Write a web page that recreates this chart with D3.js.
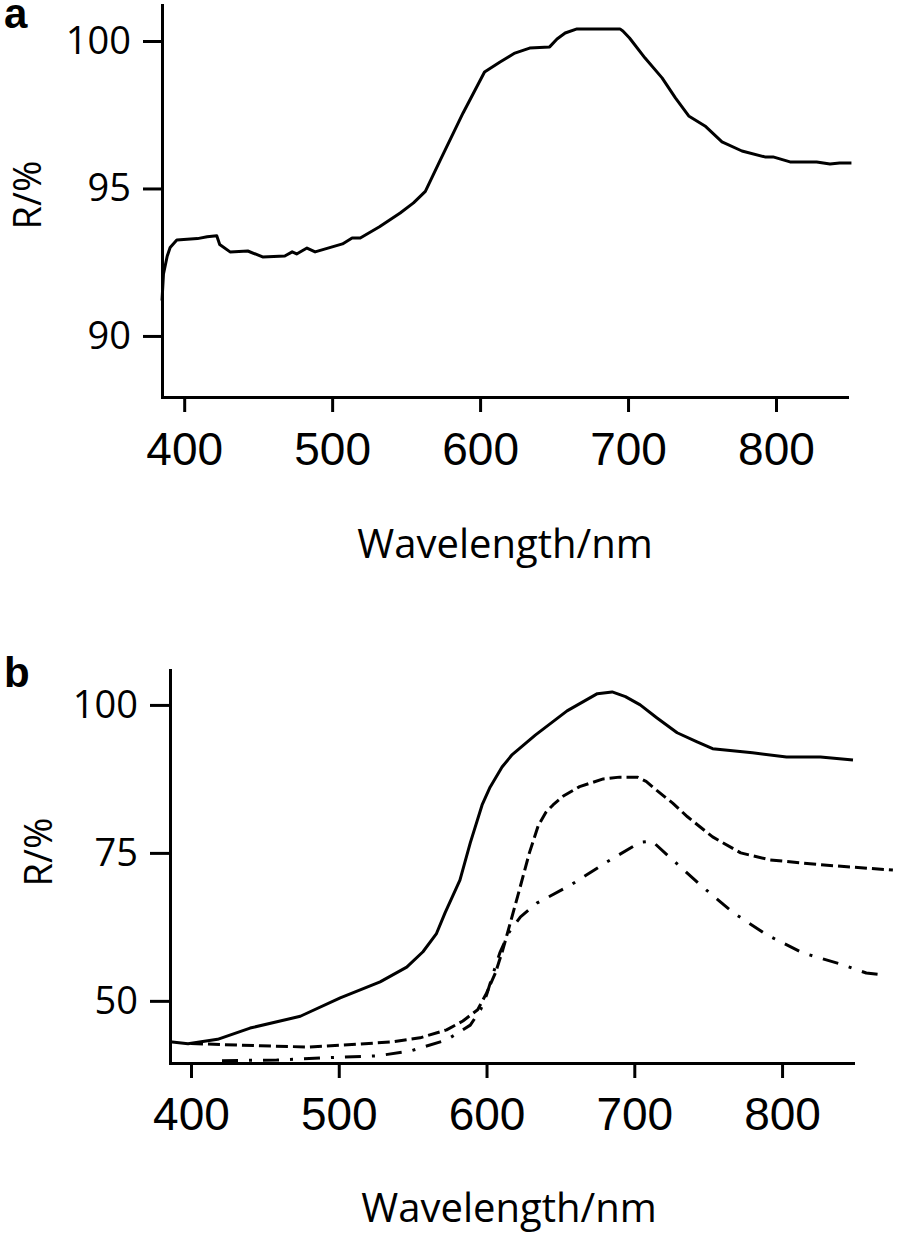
<!DOCTYPE html>
<html>
<head>
<meta charset="utf-8">
<script src="https://cdn.jsdelivr.net/npm/d3@7"></script>
<style>
  body { margin: 0; background: #fff; }
  .line { fill: none; stroke: #000; stroke-width: 3; stroke-linejoin: round; }
  .axis path { stroke: #000; stroke-width: 3; stroke-linecap: square; }
  .axis line { stroke: #000; stroke-width: 3; }
</style>
</head>
<body>
<div id="chart"></div>
<script>
// panel a: one reflectance spectrum
var waveA = [385, 386, 388.5, 390.5, 395, 409, 415.5, 422, 424, 431, 443, 453, 468, 473, 476, 483, 488.5,
  507, 513.5, 519, 532, 546, 555, 563, 573, 588.5, 603, 613.5, 623.5, 633.5, 647, 652, 657.5, 665.5,
  694.5, 696.5, 701, 711.5, 723, 732, 741, 752, 763.5, 777, 792.5, 798, 809.5, 827.5, 836.5, 843, 851];
var reflA = [91.2, 92.1, 92.7, 93.0, 93.25, 93.3, 93.36, 93.4, 93.1, 92.85, 92.88, 92.68, 92.71, 92.85, 92.78, 92.98, 92.85,
  93.12, 93.32, 93.32, 93.7, 94.17, 94.51, 94.9, 95.95, 97.56, 98.95, 99.29, 99.59, 99.76, 99.8, 100.07, 100.27, 100.41,
  100.41, 100.34, 100.1, 99.42, 98.75, 98.07, 97.46, 97.12, 96.58, 96.27, 96.07, 96.07, 95.9, 95.9, 95.83, 95.86, 95.86];

// panel b: three spectra (solid, dashed, dash-dot)
var waveB1 = [385.8, 398, 418, 440, 474, 501, 528, 546, 557, 566, 572, 582, 589, 597, 602.4, 610.5, 617, 633,
  654.5, 675, 685, 694, 704, 715.4, 729, 742.5, 753, 780, 803, 826, 848];
var reflB1 = [43.1, 42.75, 43.5, 45.4, 47.4, 50.5, 53.2, 55.7, 58.3, 61.3, 64.9, 70.4, 76.7, 83.1, 86.1, 89.5, 91.5, 94.9,
  99.0, 101.9, 102.2, 101.4, 100, 97.8, 95.3, 93.75, 92.6, 91.9, 91.2, 91.2, 90.7];

var waveB2 = [400, 447, 480, 514, 537, 555, 573, 584, 594, 600, 606, 611, 621, 629, 635, 640, 645, 652, 663, 679, 690, 702,
  708, 715, 726, 736, 753, 772, 792, 826, 875];
var reflB2 = [42.8, 42.4, 42.2, 42.7, 43.1, 43.75, 45.1, 46.6, 48.5, 51.3, 54.7, 58.6, 67.6, 75, 79.6, 81.8, 83.1, 84.6, 86.2, 87.5, 87.8, 87.8,
  87.1, 85.6, 83.4, 81.1, 77.7, 75, 73.8, 73, 72.1];

var waveB3 = [421, 458, 492, 526, 548, 573, 589, 596, 600, 605, 609, 615, 623, 634, 656.5, 681, 704, 712,
  726, 746.5, 767, 790, 814, 841, 857, 868];
var reflB3 = [39.9, 40.0, 40.4, 40.7, 41.5, 43.4, 45.9, 48.5, 51, 55, 58.1, 61.5, 64.2, 66.5, 69.5, 73.4, 76.8, 77,
  73.8, 69.2, 64.9, 61.1, 58.1, 56.1, 54.7, 54.4];

var xTicks = [400, 500, 600, 700, 800];
var yTicksA = [90, 95, 100];
var yTicksB = [50, 75, 100];

var svg = d3.select('#chart')
  .append('svg')
  .attr('width', 898)
  .attr('height', 1234)
  .style('background', '#fff');

function zip(xs, ys) {
  return xs.map(function(x, i) { return {x: x, y: ys[i]}; });
}

function drawPanel(p) {
  var x = d3.scaleLinear().domain(p.xDomain).range(p.xRange);
  var y = d3.scaleLinear().domain(p.yDomain).range(p.yRange);

  // x axis
  var gx = svg.append('g')
    .attr('class', 'axis')
    .attr('transform', 'translate(0,' + p.yRange[0] + ')')
    .call(d3.axisBottom(x).tickValues(xTicks).tickSize(15).tickSizeOuter(0).tickPadding(p.xPad));
  gx.selectAll('text')
    .attr('font-family', '"Liberation Sans", Arial, sans-serif')
    .attr('font-size', 46)
    .attr('fill', '#000');

  // y axis
  var gy = svg.append('g')
    .attr('class', 'axis')
    .attr('transform', 'translate(' + p.xRange[0] + ',0)')
    .call(d3.axisLeft(y).tickValues(p.yTicks).tickSize(p.yTick).tickSizeOuter(0).tickPadding(12));
  gy.selectAll('text')
    .attr('font-family', '"Open Sans", sans-serif')
    .attr('font-size', 38)
    .attr('fill', '#000');

  var line = d3.line()
    .x(function(d) { return x(d.x); })
    .y(function(d) { return y(d.y); });

  p.series.forEach(function(s) {
    svg.append('path')
      .datum(zip(s.wave, s.refl))
      .attr('class', 'line')
      .attr('stroke-dasharray', s.dash)
      .attr('d', line);
  });

  // axis titles and panel letter
  svg.append('text')
    .attr('x', p.titleX).attr('y', p.titleY)
    .attr('text-anchor', 'middle')
    .attr('font-family', '"Open Sans", sans-serif')
    .attr('font-size', 40)
    .text('Wavelength/nm');

  svg.append('text')
    .attr('transform', 'translate(' + p.rX + ',' + p.rY + ') rotate(-90)')
    .attr('text-anchor', 'middle')
    .attr('font-family', '"Open Sans", sans-serif')
    .attr('font-size', 38)
    .text('R/%');

  svg.append('text')
    .attr('x', 4).attr('y', p.letterY)
    .attr('font-family', '"Liberation Sans", Arial, sans-serif')
    .attr('font-weight', 'bold')
    .attr('font-size', 42)
    .text(p.letter);
}

drawPanel({
  letter: 'a', letterY: 28,
  xDomain: [385, 848], xRange: [162, 847],
  yDomain: [87.93, 101.22], yRange: [397, 5],
  yTicks: yTicksA, yTick: 19, xPad: 20,
  titleX: 505, titleY: 558, rX: 41, rY: 195,
  series: [{wave: waveA, refl: reflA, dash: null}]
});

drawPanel({
  letter: 'b', letterY: 687,
  xDomain: [385.8, 848], xRange: [170, 853],
  yDomain: [39.5, 105.9], yRange: [1063, 670],
  yTicks: yTicksB, yTick: 20, xPad: 19,
  titleX: 509, titleY: 1222, rX: 52, rY: 852,
  series: [
    {wave: waveB1, refl: reflB1, dash: null},
    {wave: waveB2, refl: reflB2, dash: '12,5'},
    {wave: waveB3, refl: reflB3, dash: '16,11,3,11'}
  ]
});
</script>
</body>
</html>
